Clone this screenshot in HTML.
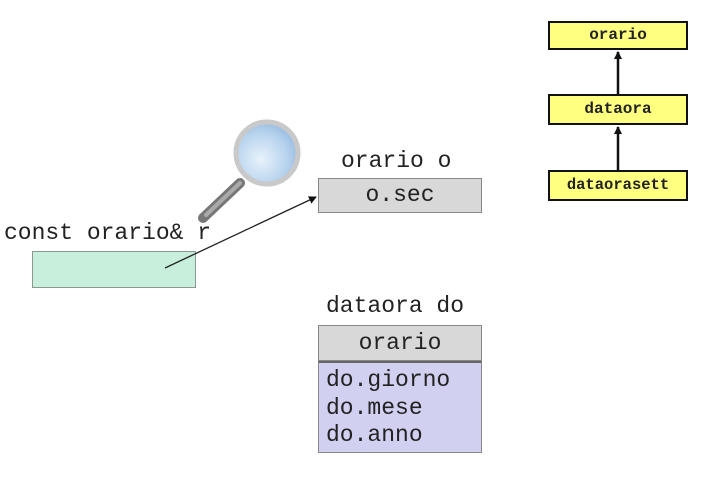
<!DOCTYPE html>
<html><head><meta charset="utf-8"><style>
body{margin:0;background:#fff;width:701px;height:480px;overflow:hidden;position:relative;font-family:"Liberation Mono",monospace;}
.t{position:absolute;font-size:23px;color:#222;white-space:pre;line-height:1;}
.b{position:absolute;box-sizing:border-box;}
.y{position:absolute;box-sizing:border-box;left:548px;width:140px;background:#ffff80;border:2px solid #111;font-weight:bold;font-size:16px;text-align:center;color:#222;}
</style></head><body>
<div class="y" style="top:21px;height:29px;line-height:25px">orario</div>
<div class="y" style="top:94px;height:31px;line-height:27px">dataora</div>
<div class="y" style="top:170px;height:31px;line-height:27px;font-size:15.5px">dataorasett</div>

<div class="t" style="left:4px;top:222px">const orario&amp; r</div>
<div class="b" style="left:32px;top:251px;width:164px;height:37px;background:#c8eedc;border:1px solid #8a9a92"></div>

<div class="t" style="left:341px;top:150px">orario o</div>
<div class="b" style="left:318px;top:178px;width:164px;height:35px;background:#d8d8d8;border:1px solid #888;text-align:center;font-size:23px;line-height:33px;color:#222">o.sec</div>

<div class="t" style="left:326px;top:295px">dataora do</div>
<div class="b" style="left:318px;top:325px;width:164px;height:36px;background:#d8d8d8;border:1px solid #888;text-align:center;font-size:23px;line-height:34px;color:#222">orario</div>
<div class="b" style="left:318px;top:361px;width:164px;height:92px;background:#d2d0f0;border:1px solid #888;border-top:2px solid #666"></div>
<div class="t" style="left:326px;top:369px">do.giorno</div>
<div class="t" style="left:326px;top:397px">do.mese</div>
<div class="t" style="left:326px;top:424px">do.anno</div>

<svg width="701" height="480" style="position:absolute;left:0;top:0">
<defs>
<marker id="a" markerWidth="8" markerHeight="8" refX="7" refY="4" orient="auto" markerUnits="userSpaceOnUse"><path d="M0,0 L8,4 L0,8 z" fill="#111"/></marker>
<radialGradient id="g" cx="0.4" cy="0.6" r="0.7"><stop offset="0" stop-color="#e8f2fb"/><stop offset="0.6" stop-color="#b8d4ee"/><stop offset="1" stop-color="#8fb5dc"/></radialGradient>
</defs>
<line x1="165" y1="268" x2="316" y2="197" stroke="#222" stroke-width="1.3" marker-end="url(#a)"/>
<line x1="618" y1="170" x2="618" y2="127" stroke="#111" stroke-width="2.5" marker-end="url(#a)"/>
<line x1="618" y1="94" x2="618" y2="52" stroke="#111" stroke-width="2.5" marker-end="url(#a)"/>
<line x1="240" y1="183" x2="203" y2="218" stroke="#777" stroke-width="10" stroke-linecap="round"/>
<line x1="240" y1="183" x2="206" y2="215" stroke="#aaa" stroke-width="4" stroke-linecap="round"/>
<circle cx="267" cy="153" r="31" fill="url(#g)" stroke="#c9c9c9" stroke-width="5"/>
</svg>
</body></html>
